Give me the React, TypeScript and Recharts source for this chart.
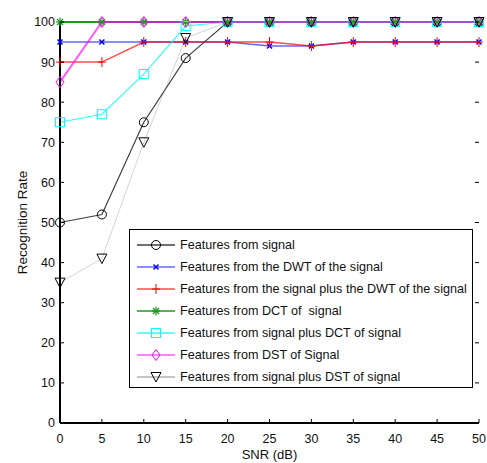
import React from 'react';
import { LineChart, Line, XAxis, YAxis, Legend } from 'recharts';

const snr = [0, 5, 10, 15, 20, 25, 30, 35, 40, 45, 50];
const fromSignal = [50, 52, 75, 91, 100, 100, 100, 100, 100, 100, 100];
const fromDwt = [95, 95, 95, 95, 95, 94, 94, 95, 95, 95, 95];
const signalPlusDwt = [90, 90, 95, 95, 95, 95, 94, 95, 95, 95, 95];
const fromDct = [100, 100, 100, 100, 100, 100, 100, 100, 100, 100, 100];
const signalPlusDct = [75, 77, 87, 99, 100, 100, 100, 100, 100, 100, 100];
const fromDst = [85, 100, 100, 100, 100, 100, 100, 100, 100, 100, 100];
const signalPlusDst = [35, 41, 70, 96, 100, 100, 100, 100, 100, 100, 100];

const xTicks = [0, 5, 10, 15, 20, 25, 30, 35, 40, 45, 50];
const yTicks = [0, 10, 20, 30, 40, 50, 60, 70, 80, 90, 100];

const series = [
  { key: 'sig', name: 'Features from signal', color: '#000000', shape: 'circle', values: fromSignal, opacity: 0.75, width: 1.2 },
  { key: 'dwt', name: 'Features from the DWT of the signal', color: '#0000ff', shape: 'x', values: fromDwt, opacity: 0.6, width: 1.5 },
  { key: 'sdwt', name: 'Features from the signal plus the DWT of the signal', color: '#ff0000', shape: 'plus', values: signalPlusDwt, opacity: 0.7, width: 1.5 },
  { key: 'dct', name: 'Features from DCT of  signal', color: '#1c9a1c', shape: 'star', values: fromDct, opacity: 1, width: 2 },
  { key: 'sdct', name: 'Features from signal plus DCT of signal', color: '#00ffff', shape: 'square', values: signalPlusDct, opacity: 0.8, width: 1.2 },
  { key: 'dst', name: 'Features from DST of Signal', color: '#ff00ff', shape: 'diamond', values: fromDst, opacity: 0.65, width: 2 },
  { key: 'sdst', name: 'Features from signal plus DST of signal', color: '#808080', shape: 'tri', values: signalPlusDst, opacity: 0.35, width: 1 },
];

const data = snr.map((x, i) => {
  const row: any = { snr: x };
  series.forEach(s => { row[s.key] = s.values[i]; });
  return row;
});

const W = 487;
const H = 463;
const M = { top: 22, right: 8, bottom: 0, left: 20 };
const PL = 60;
const PR = W - M.right;
const PB = 423;
const FONT = '"Liberation Sans", Arial, sans-serif';

function Marker({ shape, color, cx, cy }: { shape: string; color: string; cx: number; cy: number }) {
  switch (shape) {
    case 'circle':
      return <circle cx={cx} cy={cy} r={4.5} fill="none" stroke={color} strokeWidth={1} />;
    case 'x':
      return (
        <g stroke={color} strokeWidth={1.5}>
          <line x1={cx - 2.5} y1={cy - 2.5} x2={cx + 2.5} y2={cy + 2.5} />
          <line x1={cx - 2.5} y1={cy + 2.5} x2={cx + 2.5} y2={cy - 2.5} />
        </g>
      );
    case 'plus':
      return (
        <g stroke={color} strokeWidth={1}>
          <line x1={cx} y1={cy - 5} x2={cx} y2={cy + 5} />
          <line x1={cx - 4} y1={cy} x2={cx + 4} y2={cy} />
        </g>
      );
    case 'star':
      return (
        <g stroke={color} strokeWidth={1.2}>
          <line x1={cx} y1={cy - 4.5} x2={cx} y2={cy + 4.5} />
          <line x1={cx - 4} y1={cy} x2={cx + 4} y2={cy} />
          <line x1={cx - 3} y1={cy - 3} x2={cx + 3} y2={cy + 3} />
          <line x1={cx - 3} y1={cy + 3} x2={cx + 3} y2={cy - 3} />
        </g>
      );
    case 'square':
      return <rect x={cx - 4.5} y={cy - 4.5} width={9} height={9} fill="none" stroke={color} strokeWidth={1} />;
    case 'diamond':
      return (
        <polygon
          points={`${cx},${cy - 5.5} ${cx + 4},${cy} ${cx},${cy + 5.5} ${cx - 4},${cy}`}
          fill="none"
          stroke={color}
          strokeWidth={1}
        />
      );
    default:
      return (
        <polygon
          points={`${cx - 5},${cy - 4.5} ${cx + 5},${cy - 4.5} ${cx},${cy + 5}`}
          fill="none"
          stroke="#000"
          strokeWidth={1}
        />
      );
  }
}

const makeDot = (shape: string, color: string) => (p: any) => {
  const { cx, cy, index } = p;
  if (cx == null || cy == null) return <g key={`${shape}-${index}`} />;
  return (
    <g key={`${shape}-${index}`}>
      <Marker shape={shape} color={color} cx={cx} cy={cy} />
    </g>
  );
};

const YTick = (p: any) => {
  const { x, y, payload } = p;
  const yy = payload.coordinate ?? y;
  return (
    <g>
      <line x1={PL} x2={PL + 4} y1={yy} y2={yy} stroke="#000" />
      <line x1={PR - 4} x2={PR} y1={yy} y2={yy} stroke="#000" />
      <text x={x} y={yy} dy="0.355em" textAnchor="end" fontSize={12.5} fill="#111" fontFamily={FONT}>
        {payload.value}
      </text>
    </g>
  );
};

const XTick = (p: any) => {
  const { x, y, payload } = p;
  const xx = payload.coordinate ?? x;
  return (
    <g>
      <line x1={xx} x2={xx} y1={PB} y2={PB - 4} stroke="#000" />
      <text x={xx} y={y} dy="0.71em" textAnchor="middle" fontSize={12.5} fill="#111" fontFamily={FONT}>
        {payload.value}
      </text>
    </g>
  );
};

const renderLegend = () => (
  <div style={{ border: '1px solid #000', background: '#fff', width: 344, height: 159, paddingTop: 4, boxSizing: 'border-box', fontFamily: FONT }}>
    {series.map(s => (
      <div key={s.key} style={{ display: 'flex', alignItems: 'center', height: 22 }}>
        <svg width={50} height={22} style={{ flex: 'none' }}>
          <line x1={7} x2={45} y1={11} y2={11} stroke={s.color} strokeOpacity={Math.max(s.opacity, 0.6)} strokeWidth={1.5} />
          <Marker shape={s.shape} color={s.color} cx={26} cy={11} />
        </svg>
        <span style={{ fontSize: 12.6, color: '#111', whiteSpace: 'pre' }}>{s.name}</span>
      </div>
    ))}
  </div>
);

export default function App() {
  return (
    <div style={{ position: 'absolute', left: 0, top: 0, width: W, height: H, background: '#fff' }}>
      <LineChart width={W} height={H} data={data} margin={M}>
        <XAxis
          dataKey="snr"
          type="number"
          domain={[0, 50]}
          ticks={xTicks}
          height={40}
          tickSize={0}
          tickMargin={11}
          tickLine={false}
          axisLine={{ stroke: '#000', strokeWidth: 2 }}
          tick={<XTick />}
          label={{ value: 'SNR (dB)', position: 'insideBottom', offset: 4, fontSize: 13, fill: '#111', fontFamily: FONT }}
        />
        <YAxis
          type="number"
          domain={[0, 100]}
          ticks={yTicks}
          width={40}
          tickSize={0}
          tickMargin={5}
          tickLine={false}
          axisLine={{ stroke: '#000', strokeWidth: 2 }}
          tick={<YTick />}
          label={{ value: 'Recognition Rate', angle: -90, position: 'insideLeft', offset: 2, fontSize: 13.5, fill: '#111', fontFamily: FONT, style: { textAnchor: 'middle' } }}
        />
        <YAxis
          yAxisId="right"
          orientation="right"
          type="number"
          domain={[0, 100]}
          width={0}
          tick={false}
          tickLine={false}
          axisLine={{ stroke: '#000', strokeWidth: 1.5 }}
        />
        {series.map(s => (
          <Line
            key={s.key}
            type="linear"
            dataKey={s.key}
            name={s.name}
            stroke={s.color}
            strokeOpacity={s.opacity}
            strokeWidth={s.width}
            dot={makeDot(s.shape, s.color)}
            activeDot={false}
            isAnimationActive={false}
          />
        ))}
        <Legend
          layout="vertical"
          align="center"
          verticalAlign="middle"
          content={renderLegend}
          wrapperStyle={{ left: 129, top: 229, width: 344, height: 159 }}
        />
      </LineChart>
    </div>
  );
}
